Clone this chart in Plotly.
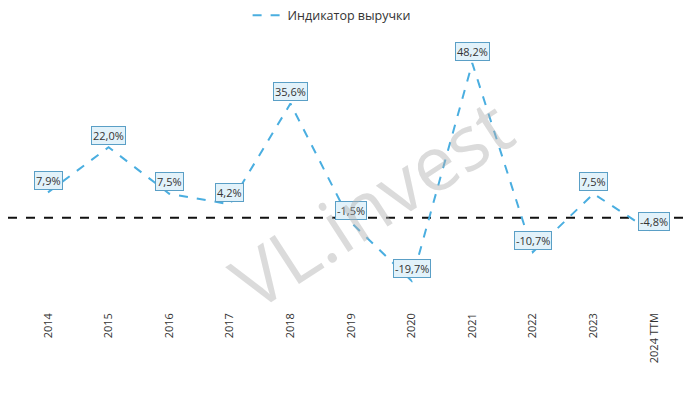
import plotly.graph_objects as go

categories = ["2014", "2015", "2016", "2017", "2018", "2019", "2020", "2021", "2022", "2023", "2024 TTM"]
values = [7.9, 22.0, 7.5, 4.2, 35.6, -1.5, -19.7, 48.2, -10.7, 7.5, -4.8]
series_name = "Индикатор выручки"

def fmt(v):
    return f"{v:.1f}%".replace(".", ",")

fig = go.Figure()
fig.add_trace(go.Scatter(
    x=categories, y=values, mode="lines", name=series_name,
    line=dict(color="#4aaee0", width=2, dash="dash"),
    hoverinfo="skip",
))

for i, v in enumerate(values):
    fig.add_annotation(
        x=i, y=v, text=fmt(v), showarrow=False, yshift=12,
        font=dict(size=11, color="#333333", family="Open Sans"),
        bgcolor="#e2f2fa", bordercolor="#5a9fc6", borderwidth=1, borderpad=1,
    )

fig.add_shape(type="line", xref="paper", x0=0, x1=1, yref="y", y0=0, y1=0,
              line=dict(color="#111111", width=2, dash="dash"), layer="below")

fig.add_annotation(
    xref="paper", yref="paper", x=0.535, y=0.40, text="VL.invest", showarrow=False,
    textangle=-33, font=dict(size=76, color="rgba(175,175,175,0.45)", family="Open Sans"),
)

fig.update_layout(
    width=692, height=386,
    margin=dict(l=0, r=15, t=32, b=84),
    paper_bgcolor="white", plot_bgcolor="white",
    font=dict(family="Open Sans", color="#333333"),
    showlegend=True,
    legend=dict(orientation="h", x=0.478, xanchor="center", y=0.98, yanchor="middle",
                yref="container", font=dict(size=12.5, color="#333333")),
    xaxis=dict(type="category", range=[-0.66, 10.51], showgrid=False, zeroline=False,
               showline=False, tickangle=-90, ticks="", automargin=False,
               tickfont=dict(size=11, color="#333333")),
    yaxis=dict(range=[-28.75, 55.4], visible=False, automargin=False),
)

fig.write_html("out.html")
